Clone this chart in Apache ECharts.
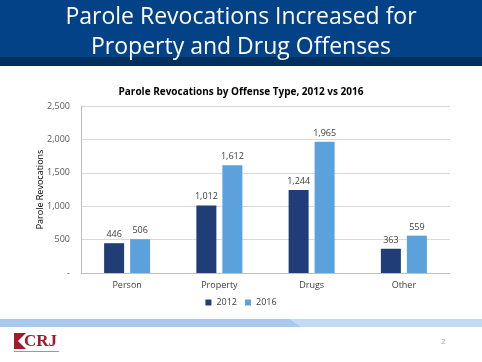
<!DOCTYPE html>
<html><head><meta charset="utf-8">
<script src="https://cdn.jsdelivr.net/npm/echarts@6/dist/echarts.min.js"></script>
<style>html,body{margin:0;padding:0;background:#fff}#c{width:482px;height:362px}</style>
</head><body><div id="c"></div>
<script>
const categories = ['Person', 'Property', 'Drugs', 'Other'];
const values2012 = [446, 1012, 1244, 363];
const values2016 = [506, 1612, 1965, 559];
const seriesNames = ['2012', '2016'];
const yTicks = [0, 500, 1000, 1500, 2000, 2500];

const chart = echarts.init(document.getElementById('c'), null, {renderer: 'canvas'});
const font = 'Open Sans, Liberation Sans, sans-serif';
const lbl = {show: true, position: 'top', distance: 4, color: '#404040', fontSize: 9, fontFamily: font,
  formatter: p => p.value.toLocaleString('en-US')};
chart.setOption({
  animation: false,
  graphic: [
    {type: 'rect', shape: {x: 0, y: 0, width: 482, height: 57}, style: {fill: '#034286'}},
    {type: 'rect', shape: {x: 0, y: 57, width: 482, height: 9}, style: {fill: '#022f5e'}},
    {type: 'text', style: {x: 241, y: 17, text: 'Parole Revocations Increased for', fill: '#fff', font: '23px ' + font, textAlign: 'center', textVerticalAlign: 'middle'}},
    {type: 'text', style: {x: 241, y: 47, text: 'Property and Drug Offenses', fill: '#fff', font: '23px ' + font, textAlign: 'center', textVerticalAlign: 'middle'}},
    {type: 'polygon', shape: {points: [[0, 319], [290, 319], [302, 327], [0, 327]]}, style: {fill: '#a6c9ed'}},
    {type: 'polygon', shape: {points: [[290, 319], [482, 319], [482, 327], [302, 327]]}, style: {fill: '#c1dbf3'}},
    {type: 'text', style: {x: 24, y: 342, text: 'CRJ', fill: '#a01c2c', font: 'bold 17px Liberation Serif, serif', textVerticalAlign: 'middle'}},
    {type: 'polygon', shape: {points: [[14, 333], [26, 333], [18, 341], [26, 349], [14, 349]]}, style: {fill: '#a01c2c'}},
    {type: 'rect', shape: {x: 14, y: 351, width: 45, height: 1}, style: {fill: '#999'}},
    {type: 'text', style: {x: 441, y: 342, text: '2', fill: '#aaa', font: '8px ' + font, textVerticalAlign: 'middle'}}
  ],
  title: {text: 'Parole Revocations by Offense Type, 2012 vs 2016', left: 'center', top: 82,
    textStyle: {fontSize: 10, fontWeight: 'bold', color: '#000', fontFamily: font}},
  legend: {data: seriesNames, bottom: 50, left: 'center', itemWidth: 6, itemHeight: 6, itemGap: 8, icon: 'rect',
    textStyle: {fontSize: 9, color: '#404040', fontFamily: font}},
  grid: {left: 81, right: 32, top: 106, bottom: 89},
  xAxis: {type: 'category', data: categories,
    axisLine: {lineStyle: {color: '#bfbfbf'}}, axisTick: {show: false},
    axisLabel: {color: '#404040', fontSize: 9, fontFamily: font, margin: 8}},
  yAxis: {type: 'value', min: 0, max: 2500, interval: 500,
    name: 'Parole Revocations', nameLocation: 'middle', nameGap: 36, nameRotate: 90, nameMoveOverlap: false,
    nameTextStyle: {fontSize: 9, color: '#000', fontFamily: font},
    axisLine: {show: true, lineStyle: {color: '#bfbfbf'}},
    axisLabel: {color: '#595959', fontSize: 9, fontFamily: font, margin: 11, align: 'right',
      formatter: v => yTicks.includes(v) ? (v === 0 ? '-' : v.toLocaleString('en-US')) : ''},
    splitLine: {lineStyle: {color: '#d9d9d9'}}},
  series: [
    {name: seriesNames[0], type: 'bar', data: values2012, barWidth: 20, barGap: '30%', itemStyle: {color: '#203d78'}, label: lbl},
    {name: seriesNames[1], type: 'bar', data: values2016, barWidth: 20, itemStyle: {color: '#5ba2dc'}, label: lbl}
  ]
});
</script></body></html>
